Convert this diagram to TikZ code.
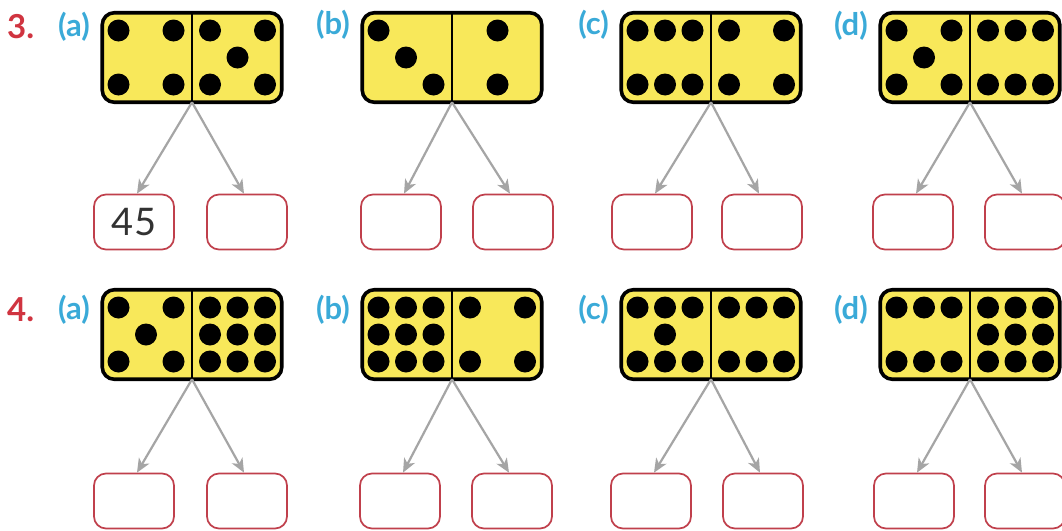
\documentclass[tikz,border=0pt]{standalone}
\usepackage{fontspec}
\setmainfont{Lato}
\usetikzlibrary{arrows.meta}
\definecolor{domyellow}{RGB}{248,232,90}
\definecolor{boxred}{RGB}{192,64,76}
\definecolor{arrgray}{RGB}{165,165,165}
\definecolor{qred}{RGB}{208,52,64}
\definecolor{lblue}{RGB}{58,170,216}
\definecolor{anstext}{RGB}{50,50,50}
\tikzset{
  domino/.style={draw=black, line width=3.6pt, fill=domyellow, rounded corners=12pt,
    minimum width=179.5pt, minimum height=89.5pt, inner sep=0pt, outer sep=0pt},
  ansbox/.style={draw=boxred, line width=1.7pt, fill=white, rounded corners=12pt,
    minimum width=80pt, minimum height=55pt, inner sep=0pt, text=anstext,
    font=\fontsize{38}{42}\selectfont},
  splitarrow/.style={draw=arrgray, line width=2.2pt, -{Stealth[length=14pt,width=12pt,inset=4pt]}},
  divider/.style={line width=1.6pt, draw=black},
  pip/.style={fill=black},
  qnum/.style={text=qred, font=\bfseries\fontsize{33}{36}\selectfont, inner sep=0pt, anchor=west},
  plabel/.style={text=lblue, font=\bfseries\fontsize{31}{34}\selectfont, inner sep=0pt, anchor=east},
}
% pip patterns (column/row)
\def\ptwo{2/1,2/3}
\def\pthree{1/1,2/2,3/3}
\def\pfour{1/1,3/1,1/3,3/3}
\def\pfive{1/1,3/1,2/2,1/3,3/3}
\def\psix{1/1,2/1,3/1,1/3,2/3,3/3}
\def\pseven{1/1,2/1,3/1,2/2,1/3,2/3,3/3}
\def\pnine{1/1,2/1,3/1,1/2,2/2,3/2,1/3,2/3,3/3}
% #1 = x of half's left edge, #2 = domino top y, #3 = pattern name
\newcommand\pipset[3]{%
  \edef\pipl{\csname p#3\endcsname}%
  \foreach \c/\r in \pipl {\fill[pip] ({#1+18+(\c-1)*27.5},{#2+19.5+(\r-1)*27}) circle (11pt);}}
\begin{document}
\begin{tikzpicture}[x=1pt,y=-1pt]
\fill[white] (0,0) rectangle (1062,530);
\clip (0,0) rectangle (1062,530);

% ---------- question labels ----------
\node[qnum] (q3) at (7,27) {3.};
\node[qnum] (q4) at (7,310) {4.};

% ---------- dominoes, boxes, arrows ----------
\foreach \nm/\cx/\cy/\ly/\lab/\lp/\rp/\bl/\br/\by/\txt in {
  ra/192/57.5/27/a/four/five/134/247/222/45,
  rb/452/57.5/25/b/three/two/401/513/222/{},
  rc/711/57.5/25/c/six/four/652/762/222/{},
  rd/970/57.5/26/d/five/six/913/1025/222/{},
  sa/192/334.5/310/a/five/nine/134/247/501/{},
  sb/452/334.5/310/b/nine/four/400/512/501/{},
  sc/711/334.5/310/c/seven/six/651/763/501/{},
  sd/970/334.5/310/d/six/nine/914/1025/501/{}} {
  \node[domino] (dom\nm) at (\cx,\cy) {};
  \pipset{\cx-91.5}{\cy-46.5}{\lp}
  \pipset{\cx}{\cy-46.5}{\rp}
  \draw[divider] (dom\nm.north) -- (dom\nm.south);
  \node[plabel] (lab\nm) at ({\cx-102},\ly) {(\lab)};
  \node[ansbox] (box\nm L) at (\bl,\by) {\txt};
  \node[ansbox] (box\nm R) at (\br,\by) {};
  \draw[splitarrow] (dom\nm.south) -- ([xshift=3pt]box\nm L.north);
  \draw[splitarrow] (dom\nm.south) -- ([xshift=-3pt]box\nm R.north);
}
\end{tikzpicture}
\end{document}
